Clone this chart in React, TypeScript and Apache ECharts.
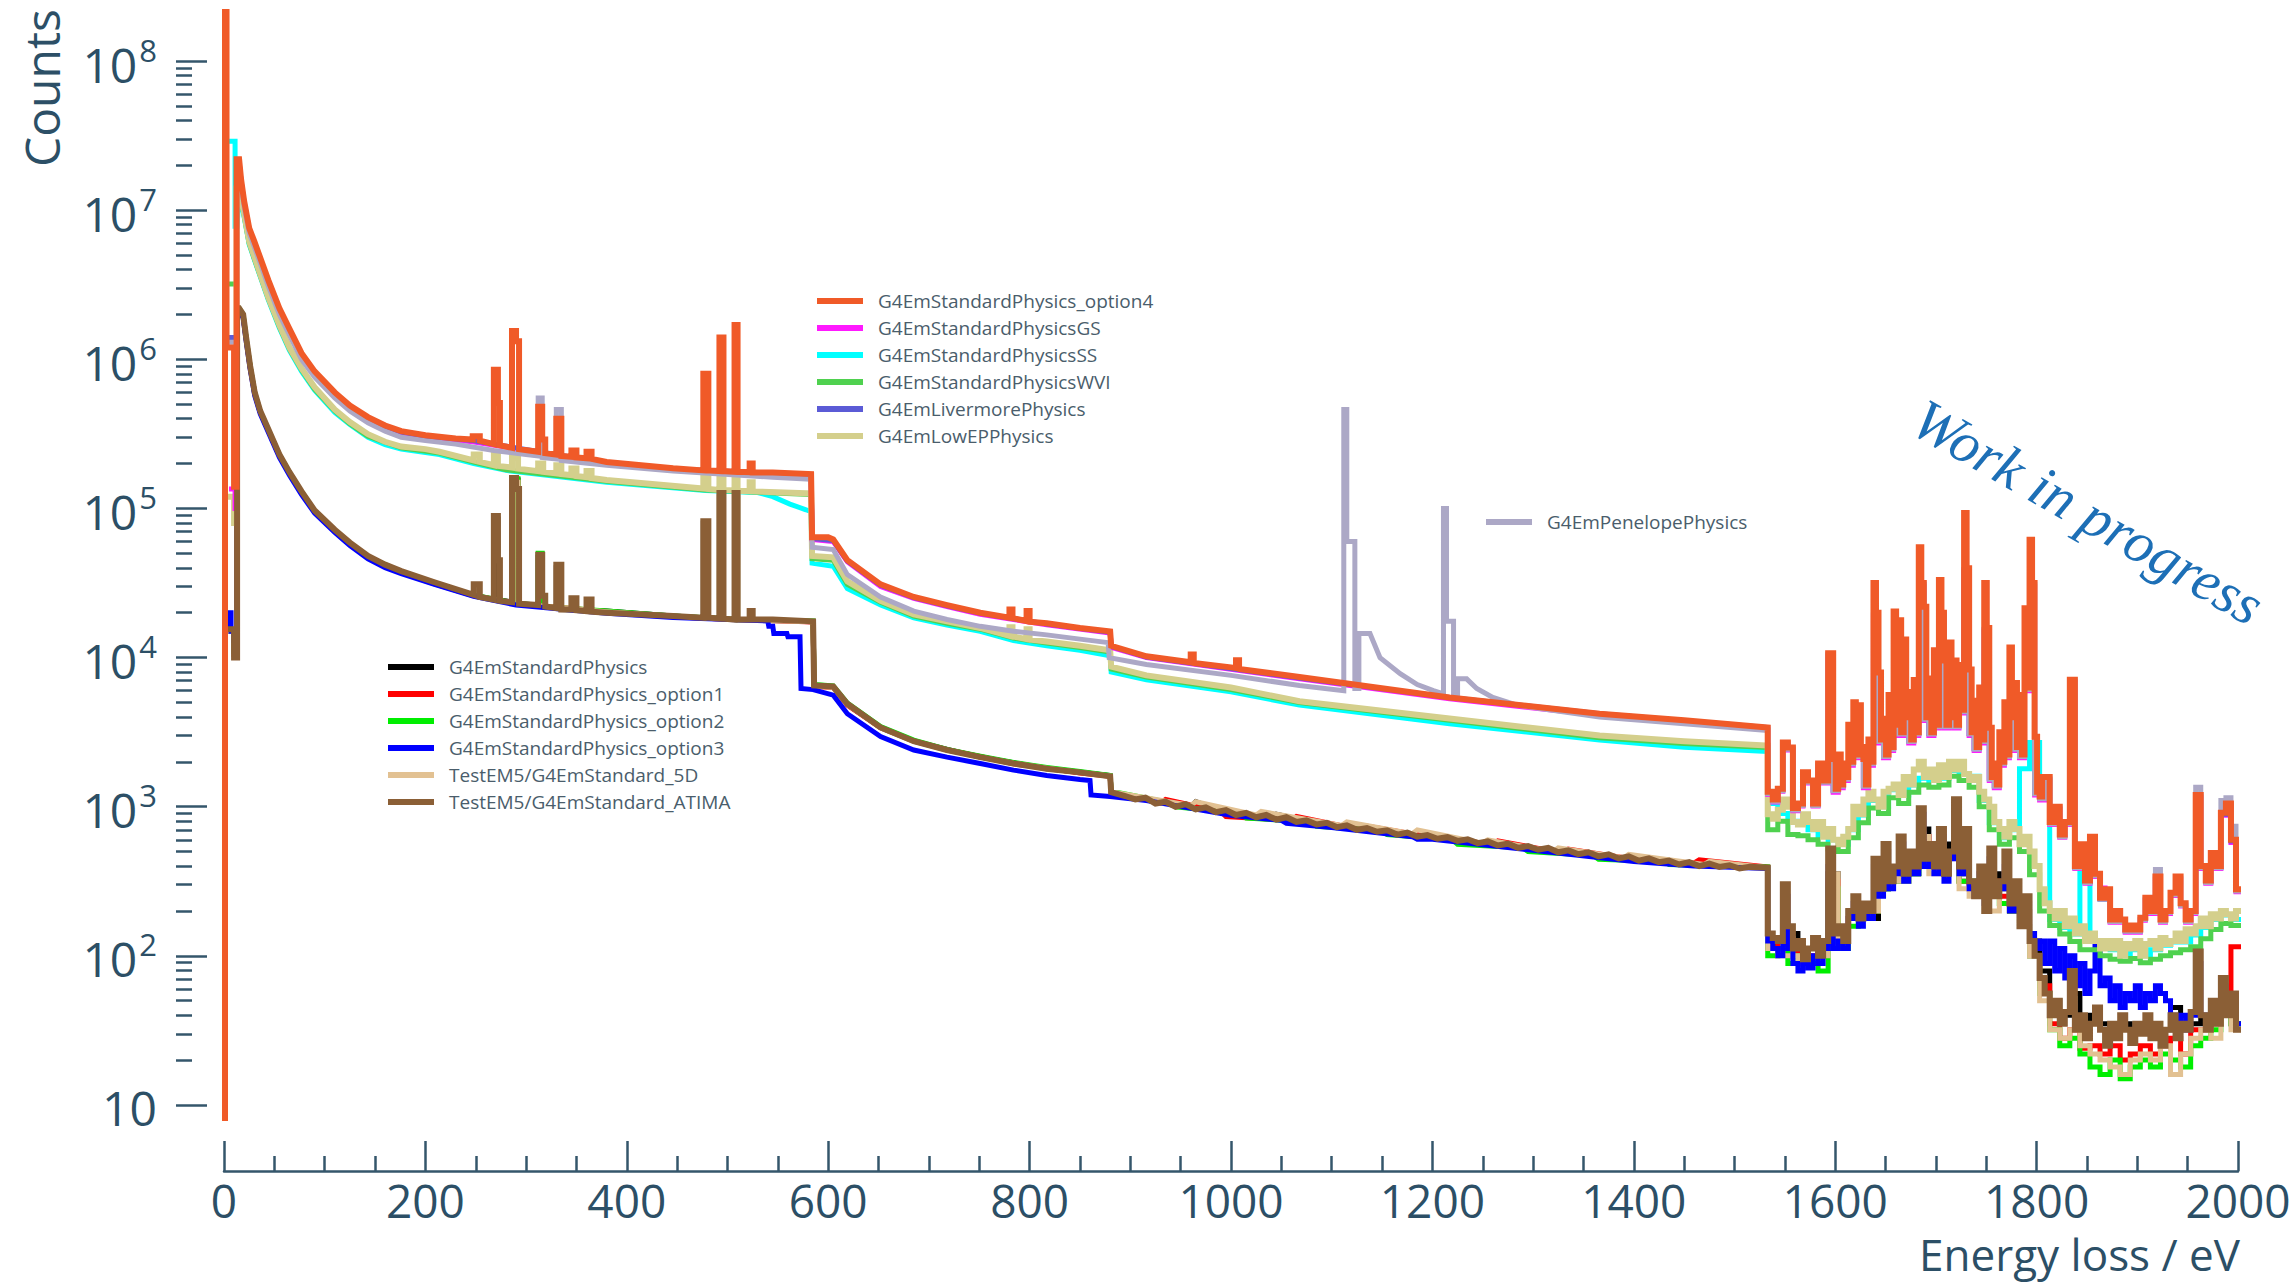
import React, { useEffect, useRef } from 'react';
import * as echarts from 'echarts';

const W = 2295;
const H = 1284;

// ---------------- axes ----------------
const Y_MIN = 8.18;
const Y_MAX = 2.133e8;
const X_MIN = 0;
const X_MAX = 2000;
const X_STEP = 200;
const DECADES = [1, 2, 3, 4, 5, 6, 7, 8];
const MINOR_MULTIPLES = [2, 3, 4, 5, 6, 7, 8, 9];

// histogram tails (noisy region above 1533 eV)
const TAIL_START = 1533;
const FINE_BIN = 5;
const COARSE_BIN = 10;
const FINEST_BIN = 2.5;
const OPT4_SPLIT_1 = 1598;
const OPT4_SPLIT_2 = 1808;

// ---------------- legend groups ----------------
const UPPER_LEGEND = ['G4EmStandardPhysics_option4', 'G4EmStandardPhysicsGS', 'G4EmStandardPhysicsSS', 'G4EmStandardPhysicsWVI', 'G4EmLivermorePhysics', 'G4EmLowEPPhysics'];
const LOWER_LEGEND = ['G4EmStandardPhysics', 'G4EmStandardPhysics_option1', 'G4EmStandardPhysics_option2', 'G4EmStandardPhysics_option3', 'TestEM5/G4EmStandard_5D', 'TestEM5/G4EmStandard_ATIMA'];
const PEN_LEGEND = ['G4EmPenelopePhysics'];

// ---------------- upper group curves [eV, counts] ----------------
const OPT4_CURVE = [[1,5],[1,3e8],[2.5,3e8],[2.5,1.2e6],[10,1.2e6],[10,1.4e5],[12.5,1.4e5],[12.5,2.2e7],[15,2.2e7],[17,1.6e7],[20,1.15e7],[25,7.6e6],[30,6.2e6],[35,5e6],[44,3.4e6],[55,2.2e6],[65,1.6e6],[77,1.1e6],[90,8.3e5],[110,6e5],[125,4.9e5],[143,4.1e5],[160,3.6e5],[176,3.3e5],[200,3.1e5],[230,2.95e5],[247,2.9e5],[247,3.05e5],[254,3.05e5],[254,2.85e5],[268,2.7e5],[268,8.5e5],[272,8.5e5],[272,5.1e5],[274,5.1e5],[274,2.65e5],[286,2.55e5],[286,1.55e6],[290,1.55e6],[290,1.32e6],[293,1.32e6],[293,2.5e5],[312,2.4e5],[312,4.8e5],[316,4.8e5],[316,2.9e5],[319,2.9e5],[319,2.35e5],[330,2.3e5],[330,4.0e5],[335,4.0e5],[335,2.25e5],[345,2.22e5],[345,2.45e5],[350,2.45e5],[350,2.2e5],[360,2.17e5],[360,2.4e5],[365,2.4e5],[365,2.15e5],[380,2.05e5],[446,1.86e5],[476,1.8e5],[476,8e5],[481,8e5],[481,1.8e5],[492,1.78e5],[492,1.4e6],[496,1.4e6],[496,1.78e5],[507,1.76e5],[507,1.7e6],[510,1.7e6],[510,1.76e5],[522,1.75e5],[522,2.0e5],[525,2.0e5],[525,1.74e5],[545,1.74e5],[583,1.7e5],[584,6.4e4],[600,6.4e4],[605,6.2e4],[619,4.5e4],[652,3.1e4],[685,2.55e4],[718,2.25e4],[751,2.0e4],[780,1.85e4],[780,2.1e4],[783,2.1e4],[783,1.84e4],[797,1.76e4],[797,2.05e4],[800,2.05e4],[800,1.74e4],[817,1.7e4],[850,1.58e4],[880,1.5e4],[881,1.2e4],[916,1.02e4],[960,9.3e3],[960,1.05e4],[963,1.05e4],[963,9.2e3],[1000,8.6e3],[1005,8.5e3],[1005,9.6e3],[1008,9.6e3],[1008,8.4e3],[1068,7.4e3],[1217,5.4e3],[1366,4.2e3],[1450,3.8e3],[1533,3.4e3]];
const OPT4_TAIL_A = [1260,1120,1320,2700,2500,980,1050,1700,1500,1050,1950,1500,10700];
const OPT4_TAIL_B = [2090,1320,2240,1410,1950,1580,3550,2000,5010,2240,4790,2510,2090,1410,2820,2000,31600,20000,7940,2820,3890,2240,5620,2510,20400,3550,17800,3160,13200,3980,5890,2820,7080,3160,55000,31600,21900,3980,7240,3160,11200,3550,33100,20000,9550,3550,12600,3980,9550,3550,8910,4470,93300,39800,8320,3160,5130,2510,6310,2820,31600,15800,3390,1580,1950,1410,3160,2000,5010,2240,11700,3980,6760,2510,5620,2240,21400,6310,61700,31600,2950,1260,1170,1580];
const OPT4_TAIL_C = [1580,790,1000,650,790,7100,400,560,320,630,355,245,280,175,200,175,150,160,150,180,245,200,340,175,200,265,340,225,175,200,1200,400,320,490,400,910,1050,600,280];

const LOWEP_CURVE = [[2.5,1.2e5],[10,1.2e5],[10,8e4],[12.5,8e4],[12.5,1.4e7],[15,1.4e7],[17,1.2e7],[20,9.5e6],[25,6.2e6],[30,4.9e6],[35,3.9e6],[44,2.6e6],[55,1.7e6],[65,1.2e6],[77,8.7e5],[90,6.5e5],[110,4.6e5],[125,3.8e5],[143,3.15e5],[160,2.8e5],[176,2.6e5],[200,2.5e5],[214,2.4e5],[248,2.1e5],[248,2.3e5],[254,2.3e5],[254,2.05e5],[268,1.95e5],[268,2.35e5],[272,2.35e5],[272,1.93e5],[286,1.88e5],[286,2.2e5],[292,2.2e5],[292,1.85e5],[312,1.78e5],[312,2.0e5],[317,2.0e5],[317,1.76e5],[330,1.72e5],[330,1.95e5],[335,1.95e5],[335,1.7e5],[345,1.67e5],[345,1.85e5],[350,1.85e5],[350,1.65e5],[360,1.62e5],[360,1.78e5],[365,1.78e5],[365,1.6e5],[380,1.55e5],[476,1.36e5],[476,1.7e5],[481,1.7e5],[481,1.35e5],[492,1.33e5],[492,1.65e5],[496,1.65e5],[496,1.33e5],[507,1.32e5],[507,1.7e5],[510,1.7e5],[510,1.31e5],[522,1.31e5],[522,1.5e5],[525,1.5e5],[525,1.3e5],[583,1.26e5],[584,4.8e4],[605,4.7e4],[619,3.25e4],[652,2.4e4],[685,1.95e4],[718,1.75e4],[751,1.58e4],[780,1.4e4],[780,1.6e4],[783,1.6e4],[783,1.39e4],[797,1.33e4],[797,1.55e4],[800,1.55e4],[800,1.32e4],[817,1.28e4],[850,1.2e4],[880,1.12e4],[881,8.7e3],[916,7.6e3],[1000,6.3e3],[1068,5.1e3],[1217,3.9e3],[1366,3.0e3],[1450,2.75e3],[1533,2.57e3]];
const LOWEP_TAIL = [890,830,955,1120,1000,790,760,890,790,710,790,630,710,600,560,630,710,1000,890,1120,1260,1120,1000,1260,1320,1410,1200,1580,1410,1780,2000,1580,1780,1510,1900,1580,2000,1780,2000,1660,1510,1580,1260,1120,1000,790,710,630,790,710,560,630,500,400,280,225,200,178,200,158,178,141,158,126,141,126,112,126,112,126,100,120,112,126,100,120,126,112,132,120,126,141,126,151,141,158,178,158,190,178,200,190,178,200];

const SS_CURVE = [[5,2.9e7],[11,2.9e7],[11,7.8e6],[13,7.8e6],[15,1.3e7],[17,1.15e7],[20,9.0e6],[25,5.9e6],[30,4.7e6],[35,3.75e6],[44,2.5e6],[55,1.62e6],[65,1.15e6],[77,8.3e5],[90,6.2e5],[110,4.4e5],[125,3.65e5],[143,3.0e5],[160,2.68e5],[176,2.5e5],[214,2.3e5],[248,2.0e5],[280,1.8e5],[380,1.5e5],[478,1.32e5],[530,1.28e5],[545,1.2e5],[562,1.07e5],[578,9.8e4],[583,9.5e4],[584,4.3e4],[605,4.1e4],[619,2.9e4],[652,2.25e4],[685,1.85e4],[718,1.65e4],[751,1.5e4],[784,1.3e4],[817,1.2e4],[850,1.12e4],[880,1.03e4],[881,8.0e3],[916,7.1e3],[1000,5.9e3],[1068,4.8e3],[1217,3.6e3],[1366,2.8e3],[1450,2.5e3],[1533,2.35e3]];
const SS_TAIL = [1050,900,800,760,700,640,600,560,700,880,1100,1000,1300,1200,1400,1550,1500,1550,1750,1650,1600,1100,780,620,700,1800,2700,1500,175,155,140,400,125,112,110,100,110,100,110,118,124,124,138,155,175,188,175];

const WVI_CURVE = [[5,3.2e6],[12.5,3.2e6],[12.5,1.35e7],[15,1.35e7],[20,9.2e6],[25,6.0e6],[30,4.75e6],[35,3.8e6],[44,2.55e6],[55,1.65e6],[65,1.17e6],[77,8.5e5],[90,6.3e5],[110,4.5e5],[125,3.7e5],[143,3.05e5],[176,2.55e5],[214,2.35e5],[248,2.05e5],[280,1.82e5],[380,1.52e5],[478,1.33e5],[583,1.24e5],[584,4.6e4],[605,4.5e4],[619,3.1e4],[652,2.35e4],[685,1.9e4],[718,1.7e4],[751,1.55e4],[784,1.35e4],[817,1.25e4],[850,1.17e4],[880,1.09e4],[881,8.4e3],[916,7.4e3],[1000,6.1e3],[1068,5.0e3],[1217,3.8e3],[1366,2.9e3],[1450,2.65e3],[1533,2.5e3]];
const WVI_TAIL = [700,800,650,640,600,560,520,500,620,780,980,900,1150,1050,1250,1400,1350,1400,1600,1500,1350,1000,700,560,620,500,350,200,160,140,125,110,110,100,95,92,96,90,95,100,105,110,115,130,150,165,160];

const GS_CURVE = [[5,1.35e5],[11,1.35e5],[11,1.0e5],[12.5,1.0e5],[12.5,2.1e7],[15,2.1e7],[17,1.55e7],[20,1.12e7],[25,7.4e6],[30,6.0e6],[35,4.85e6],[44,3.3e6],[55,2.15e6],[65,1.55e6],[77,1.07e6],[90,8.1e5],[110,5.85e5],[125,4.8e5],[143,4.0e5],[160,3.5e5],[176,3.2e5],[200,3.0e5],[247,2.8e5],[380,2.0e5],[446,1.82e5],[583,1.66e5],[584,6.2e4],[605,6.0e4],[619,4.4e4],[652,3.0e4],[685,2.5e4],[718,2.2e4],[751,1.95e4],[817,1.66e4],[880,1.46e4],[881,1.17e4],[916,1.0e4],[1068,7.2e3],[1217,5.3e3],[1366,4.1e3],[1533,3.3e3]];
const GS_TAIL = [1210,1075,1270,2590,2400,940,1010,1630,1440,1010,1870,1440,10300,1250,1340,1500,1900,2130,2380,1340,1900,19000,2680,2130,2380,3370,3000,3780,2680,3000,30000,3780,3000,3370,19000,3370,3780,3370,4250,37800,3000,2380,2680,15000,1500,1340,1900,2130,3780,2380,2130,6000,30000,1200,1110,1520,760,960,625,760,6820,385,540,307,605,340,285,269,168,192,168,144,154,144,173,235,192,326,168,192,254,326,216,168,192,1150,385,307,470,385,875,1010,576,269];

const LIVERMORE_CURVE = [[2.5,1.4e6],[12.5,1.4e6],[12.5,2.1e7],[15,2.1e7],[17,1.57e7],[20,1.13e7],[25,7.5e6],[30,6.1e6],[35,4.9e6],[44,3.35e6],[55,2.17e6],[65,1.57e6],[77,1.08e6],[90,8.2e5],[110,5.9e5],[125,4.85e5],[143,4.05e5],[160,3.55e5],[176,3.25e5],[200,3.05e5],[247,2.85e5],[380,2.02e5],[446,1.84e5],[583,1.68e5],[584,6.3e4],[605,6.1e4],[619,4.45e4],[652,3.05e4],[685,2.52e4],[718,2.22e4],[751,1.98e4],[817,1.68e4],[880,1.48e4],[881,1.19e4],[916,1.01e4],[1068,7.3e3],[1217,5.4e3],[1366,4.2e3],[1533,3.4e3]];
const LIVERMORE_TAIL = [1235,1100,1295,2650,2450,960,1030,1670,1470,1030,1910,1470,10500,1290,1380,1550,1960,2200,2460,1380,1960,19600,2760,2200,2460,3480,3100,3900,2760,3100,31000,3900,3100,3480,19600,3480,3900,3480,4380,39000,3100,2460,2760,15500,1550,1380,1960,2200,3900,2460,2200,6180,31000,1230,1150,1550,775,980,640,775,6960,392,550,314,620,348,240,275,172,196,172,147,157,147,176,240,196,333,172,196,260,333,220,172,196,1180,392,314,480,392,890,1030,590,275];

const PENELOPE_CURVE = [[2.5,1.3e6],[12.5,1.3e6],[12.5,1.8e7],[15,1.8e7],[17,1.45e7],[20,1.05e7],[25,7e6],[30,5.7e6],[35,4.6e6],[44,3.1e6],[55,2.0e6],[65,1.45e6],[77,1.0e6],[90,7.6e5],[110,5.5e5],[125,4.5e5],[143,3.75e5],[160,3.3e5],[176,3.0e5],[200,2.85e5],[230,2.7e5],[268,2.45e5],[300,2.3e5],[312,2.25e5],[312,5.5e5],[316,5.5e5],[316,2.2e5],[330,2.15e5],[330,4.6e5],[335,4.6e5],[335,2.1e5],[380,1.95e5],[446,1.78e5],[545,1.62e5],[583,1.57e5],[584,5.5e4],[605,5.3e4],[619,3.6e4],[652,2.55e4],[685,2.05e4],[718,1.8e4],[751,1.62e4],[784,1.5e4],[817,1.42e4],[850,1.33e4],[878,1.26e4],[879,1.0e4],[916,9.0e3],[1000,7.6e3],[1068,6.5e3],[1112,6.0e3],[1112,4.6e5],[1115,4.6e5],[1115,6e4],[1123,6e4],[1123,6.2e3],[1127,6.2e3],[1127,1.45e4],[1138,1.45e4],[1148,1.0e4],[1168,7.8e3],[1185,6.6e3],[1201,6.0e3],[1211,5.7e3],[1211,1.0e5],[1214,1.0e5],[1214,1.75e4],[1221,1.75e4],[1221,5.4e3],[1225,5.4e3],[1225,7.2e3],[1234,7.2e3],[1244,6.2e3],[1260,5.4e3],[1284,4.8e3],[1366,4.0e3],[1450,3.6e3],[1533,3.25e3]];
const PENELOPE_TAIL = [1220,1090,1280,2620,2430,950,1020,1650,1460,1020,1890,1460,10400,1280,1370,1530,1940,2170,2430,1370,1940,19400,2740,2170,2430,3440,3070,3860,2740,3070,30700,3860,3070,3440,19400,3440,3860,3440,4340,38600,3070,2430,2740,15300,1530,1370,1940,2170,3860,2430,2170,6120,30700,1220,1130,1530,770,970,630,770,6890,390,540,310,610,345,240,270,170,195,170,146,155,146,175,240,195,380,170,195,257,330,218,170,195,1350,390,310,475,390,1100,1150,740,272];

// ---------------- lower group curves ----------------
const ATIMA_CURVE = [[2.5,1.55e4],[10,1.55e4],[10,1.0e4],[13,1.0e4],[13,2.2e6],[15,2.2e6],[19,2.0e6],[22,1.4e6],[26,9e5],[30.5,6e5],[36,4.5e5],[44,3.4e5],[55,2.3e5],[65,1.75e5],[77,1.3e5],[90,9.7e4],[110,7.2e4],[125,5.9e4],[143,4.8e4],[160,4.2e4],[176,3.8e4],[209,3.2e4],[248,2.63e4],[248,3.1e4],[254,3.1e4],[254,2.55e4],[268,2.45e4],[268,8.9e4],[272,8.9e4],[272,4.5e4],[274,4.5e4],[274,2.4e4],[286,2.35e4],[286,1.6e5],[290,1.6e5],[290,1.35e5],[293,1.35e5],[293,2.3e4],[312,2.25e4],[312,4.9e4],[316,4.9e4],[316,2.6e4],[319,2.6e4],[319,2.2e4],[330,2.15e4],[330,4.2e4],[335,4.2e4],[335,2.1e4],[345,2.1e4],[345,2.5e4],[350,2.5e4],[350,2.08e4],[360,2.05e4],[360,2.45e4],[365,2.45e4],[365,2.03e4],[380,2.0e4],[446,1.9e4],[476,1.85e4],[476,8.2e4],[481,8.2e4],[481,1.85e4],[492,1.83e4],[492,1.27e5],[496,1.27e5],[496,1.82e4],[507,1.8e4],[507,1.27e5],[510,1.27e5],[510,1.8e4],[522,1.8e4],[522,2.05e4],[525,2.05e4],[525,1.8e4],[545,1.8e4],[585,1.75e4],[586,6.5e3],[605,6.4e3],[619,4.9e3],[652,3.4e3],[685,2.75e3],[718,2.4e3],[751,2.15e3],[784,1.95e3],[817,1.8e3],[850,1.7e3],[880,1.6e3],[881,1.25e3],[895,1.18e3],[905,1.12e3],[915,1.15e3],[925,1.05e3],[935,1.08e3],[945,1.0e3],[955,1.04e3],[965,9.6e2],[975,9.9e2],[985,9.2e2],[995,9.5e2],[1005,8.8e2],[1015,9.1e2],[1025,8.5e2],[1035,8.8e2],[1045,8.2e2],[1055,8.5e2],[1065,7.9e2],[1075,8.1e2],[1085,7.6e2],[1095,7.8e2],[1105,7.3e2],[1115,7.5e2],[1125,7.0e2],[1135,7.2e2],[1145,6.8e2],[1155,6.95e2],[1165,6.5e2],[1175,6.7e2],[1185,6.3e2],[1195,6.45e2],[1205,6.1e2],[1215,6.25e2],[1225,5.9e2],[1235,6.05e2],[1245,5.7e2],[1255,5.85e2],[1265,5.5e2],[1275,5.65e2],[1285,5.3e2],[1295,5.45e2],[1305,5.15e2],[1315,5.3e2],[1325,4.95e2],[1335,5.1e2],[1345,4.8e2],[1355,4.95e2],[1365,4.65e2],[1375,4.8e2],[1385,4.5e2],[1395,4.65e2],[1405,4.35e2],[1415,4.5e2],[1425,4.25e2],[1435,4.35e2],[1445,4.1e2],[1455,4.25e2],[1465,4.0e2],[1475,4.15e2],[1485,3.95e2],[1495,4.05e2],[1505,3.85e2],[1515,3.95e2],[1533,3.9e2]];
const ATIMA_TAIL = [141,132,126,302,158,112,126,95,112,132,100,126,525,141,158,126,200,251,178,224,200,447,282,562,316,398,631,355,501,398,977,447,562,398,708,355,501,1122,398,708,316,251,398,200,525,251,316,501,224,316,158,251,126,100,71,56,40,50,35,42,79,32,40,28,35,45,32,25,35,28,40,32,26,35,30,40,28,35,25,32,40,28,35,32,42,107,40,32,50,35,71,40,56,32];

const OPT3_CURVE = [[2.5,1.55e4],[5,1.55e4],[5,2.0e4],[7,2.0e4],[7,1.5e4],[10,1.5e4],[10,1.3e4],[13,1.3e4],[13,2.1e6],[15,2.1e6],[19,1.9e6],[22,1.33e6],[26,8.6e5],[30.5,5.7e5],[36,4.3e5],[44,3.25e5],[55,2.2e5],[65,1.67e5],[77,1.24e5],[90,9.3e4],[110,6.9e4],[125,5.65e4],[143,4.6e4],[160,4.0e4],[176,3.65e4],[209,3.1e4],[248,2.58e4],[290,2.25e4],[380,1.98e4],[446,1.86e4],[540,1.76e4],[541,1.62e4],[545,1.62e4],[546,1.45e4],[559,1.45e4],[560,1.38e4],[572,1.38e4],[573,6.2e3],[585,6.1e3],[605,5.6e3],[619,4.2e3],[652,2.95e3],[685,2.4e3],[718,2.15e3],[751,1.95e3],[784,1.76e3],[817,1.62e3],[850,1.52e3],[860,1.5e3],[861,1.2e3],[880,1.17e3],[916,1.1e3],[1000,8.75e2],[1050,8.1e2],[1055,7.75e2],[1100,7.25e2],[1180,6.3e2],[1185,6.05e2],[1200,6.05e2],[1300,5.1e2],[1400,4.3e2],[1460,4.0e2],[1533,3.85e2]];
const OPT3_TAIL = [126,112,100,251,112,89,79,89,83,100,89,112,398,112,126,112,178,224,158,200,178,398,251,501,282,355,562,316,447,355,891,398,501,355,631,316,447,1000,355,631,282,251,355,224,447,251,282,398,200,282,178,224,141,112,126,89,126,79,112,71,100,63,89,56,79,126,63,71,50,63,45,56,50,63,45,56,50,63,56,50,40,35,40,32,40,89,40,35,45,40,63,45,50,35];

const STD_CURVE = [[2.5,1.5e4],[10,1.5e4],[10,1.1e4],[13,1.1e4],[13,2.15e6],[15,2.15e6],[19,1.95e6],[22,1.38e6],[26,8.9e5],[30.5,5.95e5],[36,4.45e5],[44,3.35e5],[55,2.28e5],[65,1.73e5],[77,1.29e5],[90,9.6e4],[110,7.1e4],[125,5.85e4],[143,4.75e4],[160,4.15e4],[176,3.75e4],[209,3.15e4],[248,2.62e4],[268,2.45e4],[268,8.5e4],[272,8.5e4],[272,2.45e4],[286,2.35e4],[286,1.55e5],[292,1.55e5],[292,2.3e4],[312,2.25e4],[312,4.7e4],[316,4.7e4],[316,2.2e4],[330,2.15e4],[330,4.0e4],[335,4.0e4],[335,2.1e4],[380,2.05e4],[446,1.9e4],[476,1.85e4],[476,8e4],[481,8e4],[481,1.85e4],[492,1.83e4],[492,1.25e5],[496,1.25e5],[496,1.82e4],[507,1.8e4],[507,1.25e5],[510,1.25e5],[510,1.8e4],[585,1.74e4],[586,6.5e3],[605,6.35e3],[619,4.85e3],[652,3.4e3],[685,2.75e3],[718,2.42e3],[751,2.15e3],[784,1.97e3],[817,1.8e3],[850,1.7e3],[880,1.62e3],[881,1.25e3],[920,1.12e3],[960,1.0e3],[965,1.08e3],[1000,8.9e2],[1040,8.3e2],[1045,8.9e2],[1100,7.4e2],[1150,6.9e2],[1200,6.2e2],[1250,5.7e2],[1300,5.2e2],[1350,4.8e2],[1400,4.4e2],[1450,4.2e2],[1533,3.9e2]];
const STD_TAIL = [126,112,141,100,112,112,355,141,200,200,178,282,398,316,355,708,447,501,562,355,316,282,355,282,251,200,126,79,50,40,56,35,40,35,32,35,32,32,35,32,45,32,35,40,40,50,35];

const OPT1_CURVE = [[2.5,1.5e4],[10,1.5e4],[10,1.05e4],[13,1.05e4],[13,2.1e6],[15,2.1e6],[19,1.95e6],[22,1.37e6],[26,8.8e5],[30.5,5.9e5],[36,4.4e5],[44,3.33e5],[55,2.25e5],[65,1.72e5],[77,1.28e5],[90,9.5e4],[110,7.05e4],[125,5.8e4],[143,4.7e4],[176,3.72e4],[209,3.12e4],[248,2.6e4],[286,2.33e4],[286,1.5e5],[292,1.5e5],[292,2.3e4],[380,2.04e4],[446,1.88e4],[492,1.82e4],[492,1.2e5],[496,1.2e5],[496,1.81e4],[507,1.8e4],[507,1.2e5],[510,1.2e5],[510,1.8e4],[585,1.73e4],[586,6.4e3],[605,6.3e3],[619,4.8e3],[652,3.38e3],[685,2.76e3],[718,2.4e3],[751,2.17e3],[784,1.94e3],[817,1.82e3],[850,1.68e3],[880,1.6e3],[881,1.24e3],[930,1.06e3],[935,1.12e3],[990,9.3e2],[995,8.6e2],[1060,8.1e2],[1065,8.6e2],[1130,7.0e2],[1135,7.4e2],[1200,6.25e2],[1260,5.6e2],[1265,5.9e2],[1330,4.9e2],[1335,5.2e2],[1400,4.45e2],[1460,4.2e2],[1465,4.4e2],[1533,3.95e2]];
const OPT1_TAIL = [112,126,100,112,100,126,316,126,178,224,200,316,355,355,398,631,398,447,501,316,282,251,316,251,200,158,100,63,35,28,32,24,25,22,25,20,22,25,22,25,28,22,32,32,35,56,115];

const OPT2_CURVE = [[2.5,1.5e4],[10,1.5e4],[10,1.1e4],[13,1.1e4],[13,2.2e6],[15,2.2e6],[19,2.0e6],[22,1.39e6],[26,8.95e5],[30.5,5.95e5],[36,4.45e5],[44,3.37e5],[55,2.28e5],[65,1.74e5],[77,1.29e5],[90,9.6e4],[110,7.15e4],[125,5.85e4],[143,4.75e4],[176,3.76e4],[209,3.17e4],[248,2.62e4],[286,2.34e4],[286,1.58e5],[292,1.58e5],[292,2.3e4],[312,2.25e4],[312,5.0e4],[316,5.0e4],[316,2.2e4],[380,2.05e4],[446,1.9e4],[492,1.83e4],[492,1.25e5],[496,1.25e5],[496,1.82e4],[507,1.8e4],[507,1.25e5],[510,1.25e5],[510,1.8e4],[585,1.76e4],[586,6.6e3],[605,6.45e3],[619,4.95e3],[652,3.45e3],[685,2.8e3],[718,2.42e3],[751,2.18e3],[784,1.98e3],[817,1.83e3],[850,1.72e3],[880,1.62e3],[881,1.27e3],[940,1.06e3],[945,1.0e3],[1010,9.0e2],[1015,8.4e2],[1080,7.9e2],[1085,7.4e2],[1150,6.9e2],[1155,6.5e2],[1220,6.0e2],[1225,5.6e2],[1290,5.3e2],[1295,5.0e2],[1360,4.7e2],[1365,4.45e2],[1430,4.3e2],[1435,4.1e2],[1533,3.95e2]];
const OPT2_TAIL = [100,112,89,100,89,79,282,112,158,200,200,282,316,316,355,562,398,447,501,316,316,282,282,224,200,158,100,56,32,25,28,22,18,16,20,15,18,20,18,22,20,18,25,28,32,40,35];

const EM5D_CURVE = [[2.5,1.5e4],[10,1.5e4],[10,1.05e4],[13,1.05e4],[13,2.15e6],[15,2.15e6],[19,1.97e6],[22,1.38e6],[26,8.9e5],[30.5,5.9e5],[36,4.42e5],[44,3.35e5],[55,2.27e5],[65,1.73e5],[77,1.28e5],[90,9.55e4],[110,7.1e4],[125,5.8e4],[143,4.72e4],[176,3.74e4],[209,3.14e4],[248,2.6e4],[286,2.33e4],[286,1.5e5],[292,1.5e5],[292,2.3e4],[380,2.03e4],[446,1.89e4],[492,1.82e4],[492,1.2e5],[496,1.2e5],[496,1.81e4],[507,1.79e4],[507,1.22e5],[510,1.22e5],[510,1.79e4],[585,1.74e4],[586,6.45e3],[605,6.3e3],[619,4.85e3],[652,3.38e3],[685,2.74e3],[718,2.4e3],[751,2.15e3],[784,1.96e3],[817,1.81e3],[850,1.7e3],[880,1.61e3],[881,1.26e3],[960,1.02e3],[965,1.08e3],[1025,8.8e2],[1030,9.3e2],[1110,7.5e2],[1115,7.9e2],[1180,6.6e2],[1185,7.0e2],[1250,5.7e2],[1255,6.0e2],[1320,5.0e2],[1325,5.3e2],[1390,4.55e2],[1395,4.8e2],[1470,4.1e2],[1475,4.3e2],[1533,3.9e2]];
const EM5D_TAIL = [112,100,100,89,112,100,355,126,178,178,200,316,355,316,398,631,355,398,447,282,251,316,200,282,224,178,100,50,32,28,32,25,22,20,18,16,20,22,20,25,16,22,28,32,28,40,32];

// ---------------- styling ----------------
const AXIS_COLOR = '#34566b';
const LABEL_COLOR = '#2c4f66';
const LEGEND_COLOR = '#4a5d6b';
const TICK_FONT = 'Open Sans, sans-serif';
const TEXT_FONT = 'Open Sans, sans-serif';

const fine = (values: number[]) => [{ start: TAIL_START, bin: FINE_BIN, values }];
const coarse = (values: number[]) => [{ start: TAIL_START, bin: COARSE_BIN, values }];

const SERIES_DEFS = [
  { name: 'G4EmStandardPhysics', color: '#000000', curve: STD_CURVE, tail: coarse(STD_TAIL), width: 5 },
  { name: 'G4EmStandardPhysics_option1', color: '#ff0000', curve: OPT1_CURVE, tail: coarse(OPT1_TAIL), width: 5 },
  { name: 'G4EmStandardPhysics_option2', color: '#00ee00', curve: OPT2_CURVE, tail: coarse(OPT2_TAIL), width: 5 },
  { name: 'TestEM5/G4EmStandard_5D', color: '#e2c192', curve: EM5D_CURVE, tail: coarse(EM5D_TAIL), width: 5 },
  { name: 'G4EmStandardPhysics_option3', color: '#0000ff', curve: OPT3_CURVE, tail: fine(OPT3_TAIL), width: 5 },
  { name: 'G4EmStandardPhysicsSS', color: '#00ffff', curve: SS_CURVE, tail: coarse(SS_TAIL), width: 5 },
  { name: 'G4EmStandardPhysicsWVI', color: '#4fd14f', curve: WVI_CURVE, tail: coarse(WVI_TAIL), width: 5 },
  { name: 'G4EmLowEPPhysics', color: '#d4cf8c', curve: LOWEP_CURVE, tail: fine(LOWEP_TAIL), width: 6 },
  { name: 'G4EmStandardPhysicsGS', color: '#ff19ff', curve: GS_CURVE, tail: fine(GS_TAIL), width: 5 },
  { name: 'G4EmLivermorePhysics', color: '#5b5bd6', curve: LIVERMORE_CURVE, tail: fine(LIVERMORE_TAIL), width: 5 },
  { name: 'G4EmPenelopePhysics', color: '#aca8c6', curve: PENELOPE_CURVE, tail: fine(PENELOPE_TAIL), width: 5 },
  { name: 'TestEM5/G4EmStandard_ATIMA', color: '#8b5f36', curve: ATIMA_CURVE, tail: fine(ATIMA_TAIL), width: 6 },
  {
    name: 'G4EmStandardPhysics_option4', color: '#f05a28', curve: OPT4_CURVE, width: 6,
    tail: [
      { start: TAIL_START, bin: FINE_BIN, values: OPT4_TAIL_A },
      { start: OPT4_SPLIT_1, bin: FINEST_BIN, values: OPT4_TAIL_B },
      { start: OPT4_SPLIT_2, bin: FINE_BIN, values: OPT4_TAIL_C },
    ],
  },
];

type Seg = { start: number; bin: number; values: number[] };

function buildPoints(curve: number[][], segs: Seg[]) {
  const pts: number[][] = curve.map((p) => [p[0], p[1]]);
  segs.forEach((seg) => {
    seg.values.forEach((v, i) => {
      const x0 = seg.start + i * seg.bin;
      pts.push([x0, v], [x0 + seg.bin, v]);
    });
  });
  return pts;
}

const LOG_MIN = Math.log10(Y_MIN);
const LOG_MAX = Math.log10(Y_MAX);
const MINOR_VALUES: number[] = [];
DECADES.slice(0, -1).forEach((d) => MINOR_MULTIPLES.forEach((m) => MINOR_VALUES.push(d + Math.log10(m))));

function buildOption() {
  const legendCommon = {
    orient: 'vertical',
    icon: 'rect',
    itemWidth: 46,
    itemHeight: 6,
    itemGap: 5,
    padding: 0,
    selectedMode: false,
    itemStyle: { borderWidth: 0 },
    textStyle: { fontSize: 19, color: LEGEND_COLOR, fontFamily: TEXT_FONT, lineHeight: 22, padding: [0, 0, 0, 10] },
  };
  const tickLine = { color: AXIS_COLOR, width: 2.5 };
  return {
    animation: false,
    backgroundColor: '#ffffff',
    textStyle: { fontFamily: TEXT_FONT },
    grid: { left: 224, right: 57, top: 12, bottom: 166, containLabel: false, outerBoundsMode: 'none' },
    legend: [
      { ...legendCommon, data: UPPER_LEGEND, left: 817, top: 290 },
      { ...legendCommon, data: LOWER_LEGEND, left: 388, top: 656 },
      { ...legendCommon, data: PEN_LEGEND, left: 1486, top: 511 },
    ],
    xAxis: {
      type: 'value',
      min: X_MIN,
      max: X_MAX,
      interval: X_STEP,
      position: 'bottom',
      offset: 53,
      axisLine: { show: true, lineStyle: tickLine },
      axisTick: { show: true, inside: true, length: 30, lineStyle: tickLine },
      minorTick: { show: true, splitNumber: 4, length: 15, lineStyle: tickLine },
      axisLabel: { fontSize: 46, lineHeight: 46, color: LABEL_COLOR, fontFamily: TICK_FONT, margin: 6, formatter: (v: number) => String(v) },
      splitLine: { show: false },
      minorSplitLine: { show: false },
    },
    yAxis: [
      {
        type: 'log',
        logBase: 10,
        min: Y_MIN,
        max: Y_MAX,
        position: 'left',
        offset: 48,
        axisLine: { show: true, lineStyle: { color: AXIS_COLOR, width: 2 } },
        axisTick: { show: false },
        axisLabel: { show: false },
        splitLine: { show: false },
        minorTick: { show: false },
        minorSplitLine: { show: false },
      },
      {
        type: 'value',
        min: LOG_MIN,
        max: LOG_MAX,
        position: 'left',
        offset: 48,
        axisLine: { show: false },
        axisTick: { show: true, inside: true, length: 31, customValues: DECADES, lineStyle: tickLine },
        axisLabel: {
          show: true,
          customValues: DECADES,
          margin: 19,
          formatter: (v: number) => {
            const n = Math.round(v);
            return n === 1 ? '{b|10}' : `{b|10}{s|${n}}`;
          },
          rich: {
            b: { fontSize: 48, color: LABEL_COLOR, fontFamily: TICK_FONT, lineHeight: 54, verticalAlign: 'bottom' },
            s: { fontSize: 31, color: LABEL_COLOR, fontFamily: TICK_FONT, lineHeight: 32, verticalAlign: 'top', padding: [0, 0, 0, 2] },
          },
        },
        splitLine: { show: false },
      },
      {
        type: 'value',
        min: LOG_MIN,
        max: LOG_MAX,
        position: 'left',
        offset: 48,
        axisLine: { show: false },
        axisTick: { show: true, inside: true, length: 16, customValues: MINOR_VALUES, lineStyle: tickLine },
        axisLabel: { show: false },
        splitLine: { show: false },
      },
    ],
    series: SERIES_DEFS.map((s) => ({
      name: s.name,
      type: 'line',
      xAxisIndex: 0,
      yAxisIndex: 0,
      data: buildPoints(s.curve, s.tail),
      showSymbol: false,
      symbol: 'none',
      clip: true,
      silent: true,
      color: s.color,
      itemStyle: { color: s.color },
      lineStyle: { color: s.color, width: s.width, join: 'miter' },
      emphasis: { disabled: true },
    })),
    graphic: [
      {
        type: 'text',
        x: 41,
        y: 88,
        rotation: Math.PI / 2,
        style: { text: 'Counts', fontSize: 48, fontFamily: TEXT_FONT, fill: LABEL_COLOR, align: 'center', verticalAlign: 'middle' },
      },
      {
        type: 'text',
        x: 2240,
        y: 1254,
        style: { text: 'Energy loss / eV', fontSize: 44, lineHeight: 40, fontFamily: TEXT_FONT, fill: LABEL_COLOR, align: 'right', verticalAlign: 'middle' },
      },
      {
        type: 'text',
        x: 2088,
        y: 512,
        rotation: -0.52,
        style: { text: 'Work in progress', fontSize: 58, fontFamily: 'Liberation Serif, serif', fontStyle: 'italic', fill: '#1d6fb6', align: 'center', verticalAlign: 'middle' },
      },
    ],
  };
}

export default function App() {
  const ref = useRef<HTMLDivElement>(null);
  useEffect(() => {
    if (!ref.current) return;
    const chart = echarts.init(ref.current, null, { renderer: 'svg' });
    chart.setOption(buildOption() as any);
    return () => chart.dispose();
  }, []);
  return <div ref={ref} style={{ position: 'absolute', left: 0, top: 0, width: W, height: H }} />;
}
